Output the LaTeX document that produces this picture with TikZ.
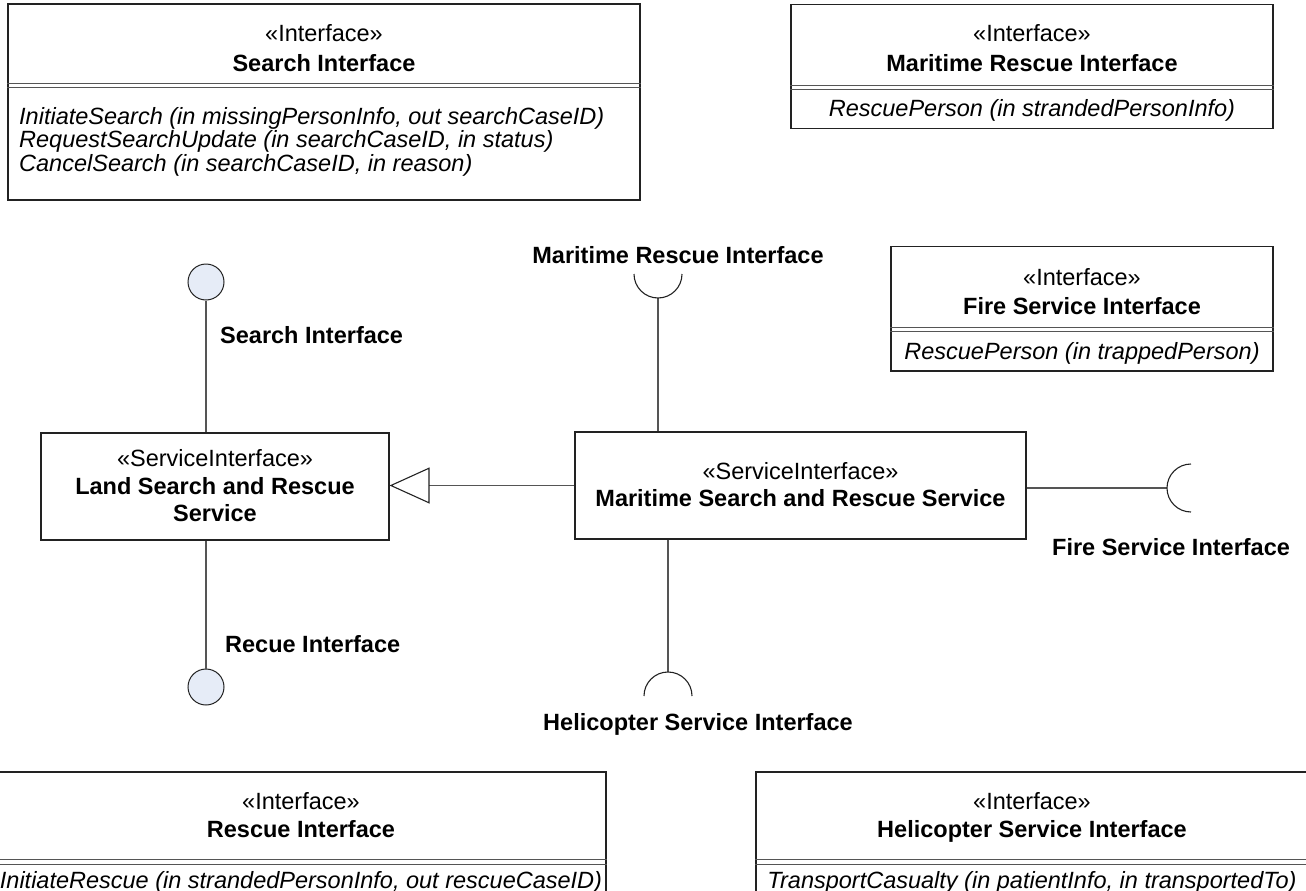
\documentclass[tikz,border=0pt]{standalone}
\usepackage{fontspec}
\setmainfont{Liberation Sans}
\usetikzlibrary{arrows.meta}
\newcommand{\fsz}[1]{\fontsize{#1}{#1}\selectfont}
\definecolor{boxline}{HTML}{222222}
\definecolor{connline}{HTML}{555555}
\definecolor{ballfill}{HTML}{E6ECF7}

\begin{document}
\begin{tikzpicture}[x=1pt,y=1pt,yscale=-1,
  box/.style={draw=boxline, line width=1.1pt, inner sep=0pt, fill=white},
  sepline/.style={draw=connline, line width=1pt},
  conn/.style={draw=connline, line width=1.3pt},
  sock/.style={draw=boxline, line width=1.1pt},
  ball/.style={circle, draw=boxline, line width=1pt, fill=ballfill, minimum size=36pt, inner sep=0pt},
  stereo/.style={anchor=base, inner sep=0pt, font=\fsz{23.5}},
  title/.style={anchor=base, inner sep=0pt, font=\fsz{23.5}\bfseries},
  oper/.style={anchor=base, inner sep=0pt, font=\fsz{23.5}\itshape},
  operl/.style={anchor=base west, inner sep=0pt, font=\fsz{23.5}\itshape},
  lbl/.style={anchor=base, inner sep=0pt, font=\fsz{23.5}\bfseries},
  lbll/.style={anchor=base west, inner sep=0pt, font=\fsz{23.5}\bfseries}]
\useasboundingbox (0,0) rectangle (1306,891);
\clip (0,0) rectangle (1306,891);

% ---------- interface: Search Interface ----------
\node[box, minimum width=632pt, minimum height=196pt] (searchbox) at (324,102) {};
\node[stereo] (searchst) at (324,42) {«Interface»};
\node[title] (searchnm) at (324,71) {Search Interface};
\draw[sepline] (searchbox.west |- 0,83.5) -- (searchbox.east |- 0,83.5);
\draw[sepline] (searchbox.west |- 0,87.5) -- (searchbox.east |- 0,87.5);
\node[operl] (searchop1) at (19,124) {InitiateSearch (in missingPersonInfo, out searchCaseID)};
\node[operl] (searchop2) at (19,147.5) {RequestSearchUpdate (in searchCaseID, in status)};
\node[operl] (searchop3) at (19,171) {CancelSearch (in searchCaseID, in reason)};

% ---------- interface: Maritime Rescue Interface ----------
\node[box, minimum width=482pt, minimum height=124.5pt] (mribox) at (1032,66.5) {};
\node[stereo] (mrist) at (1032,42) {«Interface»};
\node[title] (mrinm) at (1032,71) {Maritime Rescue Interface};
\draw[sepline] (mribox.west |- 0,85) -- (mribox.east |- 0,85);
\draw[sepline] (mribox.west |- 0,89) -- (mribox.east |- 0,89);
\node[oper] (mriop) at (1032,116) {RescuePerson (in strandedPersonInfo)};

% ---------- interface: Fire Service Interface ----------
\node[box, minimum width=382pt, minimum height=124.5pt] (fsibox) at (1082,308.75) {};
\node[stereo] (fsist) at (1082,285) {«Interface»};
\node[title] (fsinm) at (1082,314) {Fire Service Interface};
\draw[sepline] (fsibox.west |- 0,327) -- (fsibox.east |- 0,327);
\draw[sepline] (fsibox.west |- 0,331.5) -- (fsibox.east |- 0,331.5);
\node[oper] (fsiop) at (1082,359) {RescuePerson (in trappedPerson)};

% ---------- interface: Rescue Interface ----------
\node[box, minimum width=610pt, minimum height=140pt] (ribox) at (301,842) {};
\node[stereo] (rist) at (301,809) {«Interface»};
\node[title] (rinm) at (301,837) {Rescue Interface};
\draw[sepline] (ribox.west |- 0,859) -- (ribox.east |- 0,859);
\draw[sepline] (ribox.west |- 0,864) -- (ribox.east |- 0,864);
\node[oper] (riop) at (301,888) {InitiateRescue (in strandedPersonInfo, out rescueCaseID)};

% ---------- interface: Helicopter Service Interface ----------
\node[box, minimum width=552pt, minimum height=140pt] (hsibox) at (1032,842) {};
\node[stereo] (hsist) at (1032,809) {«Interface»};
\node[title] (hsinm) at (1032,837) {Helicopter Service Interface};
\draw[sepline] (hsibox.west |- 0,859) -- (hsibox.east |- 0,859);
\draw[sepline] (hsibox.west |- 0,864) -- (hsibox.east |- 0,864);
\node[oper] (hsiop) at (1032,888) {TransportCasualty (in patientInfo, in transportedTo)};

% ---------- service interfaces ----------
\node[box, minimum width=348pt, minimum height=107pt] (land) at (215,486.5) {};
\node[stereo] (landst) at (215,466) {«ServiceInterface»};
\node[lbl] (landnm1) at (215,494) {Land Search and Rescue};
\node[lbl] (landnm2) at (215,521) {Service};

\node[box, minimum width=451pt, minimum height=107pt] (msar) at (800.5,485.5) {};
\node[stereo] (msarst) at (800.5,479) {«ServiceInterface»};
\node[lbl] (msarnm) at (800.5,506) {Maritime Search and Rescue Service};

% ---------- generalization ----------
\draw[conn, -{Triangle[open, length=40pt, width=36pt, color=boxline, line width=1.1pt]}]
  (msar.west) -- (land.east |- msar.west);

% ---------- provided interfaces (lollipops) ----------
\node[ball] (sball) at (206,282) {};
\draw[conn] (sball) -- (sball |- land.north);
\node[lbll] (sballlbl) at (220,343) {Search Interface};

\node[ball] (rball) at (206,687) {};
\draw[conn] (land.south -| rball) -- (rball);
\node[lbll] (rballlbl) at (225,652) {Recue Interface};

% ---------- required interfaces (sockets) ----------
\coordinate (mrsock) at (658,298);
\draw[conn] (mrsock) -- (mrsock |- msar.north);
\draw[sock] (mrsock) ++(-24,-24) arc[start angle=180, end angle=0, radius=24pt];
\node[lbl] (mrsocklbl) at (678,263) {Maritime Rescue Interface};

\coordinate (hsock) at (668,672);
\draw[conn] (msar.south -| hsock) -- (hsock);
\draw[sock] (hsock) ++(-24,24) arc[start angle=180, end angle=360, radius=24pt];
\node[lbl] (hsocklbl) at (698,730) {Helicopter Service Interface};

\coordinate (fsock) at (1167,488);
\draw[conn] (msar.east |- fsock) -- (fsock);
\draw[sock] (fsock) ++(24,-24) arc[start angle=270, end angle=90, radius=24pt];
\node[lbll] (fsocklbl) at (1052,555) {Fire Service Interface};
\end{tikzpicture}
\end{document}
